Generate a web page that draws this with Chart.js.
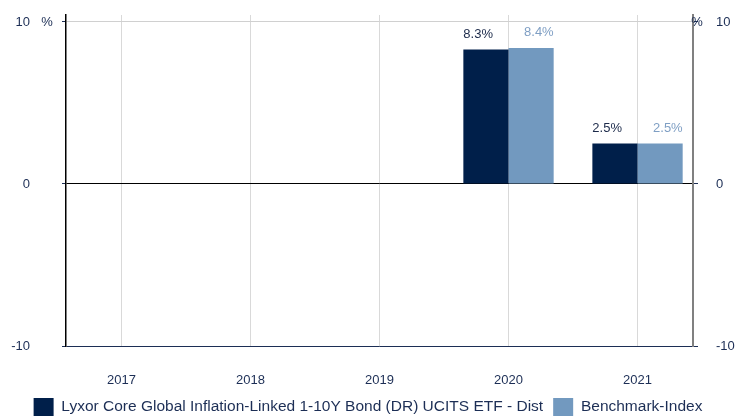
<!DOCTYPE html>
<html>
<head>
<meta charset="utf-8">
<style>
  html, body { margin: 0; padding: 0; background: #fff; }
  #wrap { width: 736px; height: 417px; }
</style>
<script src="https://cdn.jsdelivr.net/npm/chart.js@4"></script>
</head>
<body>
<div id="wrap"><canvas id="chart" width="736" height="417"></canvas></div>
<script>
// chart data
const categories = ['2017', '2018', '2019', '2020', '2021'];
const fundValues = [null, null, null, 8.3, 2.5];
const benchValues = [null, null, null, 8.4, 2.5];
const yTicks = [-10, 0, 10];
const seriesNames = ['Lyxor Core Global Inflation-Linked 1-10Y Bond (DR) UCITS ETF - Dist', 'Benchmark-Index'];

const navy = '#001f4a';
const lightBlue = '#7299bf';
const textColor = '#1c2e55';
const fontFamily = '"Liberation Sans", Arial, sans-serif';

const years = categories.map(Number);
const toPoints = vals => years.map((x, i) => ({ x: x, y: vals[i] }));

// value labels above the bars
const barLabels = {
    id: 'barLabels',
    afterDatasetsDraw(chart) {
        const ctx = chart.ctx;
        ctx.save();
        ctx.font = '13px ' + fontFamily;
        ctx.textBaseline = 'middle';
        chart.data.datasets.forEach((ds, di) => {
            const meta = chart.getDatasetMeta(di);
            meta.data.forEach((bar, i) => {
                const v = ds.data[i].y;
                if (v === null) return;
                ctx.fillStyle = di === 0 ? '#1c2a4a' : '#7f9fc4';
                ctx.textAlign = di === 0 ? 'left' : 'right';
                const x = di === 0 ? bar.x - bar.width / 2 : bar.x + bar.width / 2;
                ctx.fillText(v.toFixed(1) + '%', x, bar.y - 15);
            });
        });
        ctx.restore();
    }
};

// y tick labels on both sides + "%" unit at the top tick
const axisLabels = {
    id: 'axisLabels',
    afterDraw(chart) {
        const ctx = chart.ctx;
        const sy = chart.scales.y;
        const area = chart.chartArea;
        const top = yTicks[yTicks.length - 1];
        ctx.save();
        ctx.font = '13px ' + fontFamily;
        ctx.fillStyle = textColor;
        ctx.textBaseline = 'middle';
        yTicks.forEach(v => {
            const y = sy.getPixelForValue(v);
            ctx.textAlign = 'right';
            ctx.fillText(String(v), area.left - 36, y);
            ctx.textAlign = 'left';
            ctx.fillText(String(v), area.right + 23, y);
        });
        const yt = sy.getPixelForValue(top);
        ctx.textAlign = 'center';
        ctx.fillText('%', area.left - 19, yt);
        ctx.fillText('%', area.right + 4, yt);
        ctx.restore();
    }
};

new Chart(document.getElementById('chart'), {
    type: 'bar',
    data: {
        datasets: [
            { label: seriesNames[0], data: toPoints(fundValues), backgroundColor: navy },
            { label: seriesNames[1], data: toPoints(benchValues), backgroundColor: lightBlue }
        ]
    },
    options: {
        responsive: false,
        animation: false,
        events: [],
        layout: { padding: { top: 15, left: 0, right: 0, bottom: 0 } },
        datasets: { bar: { categoryPercentage: 0.7, barPercentage: 1 } },
        plugins: {
            tooltip: { enabled: false },
            legend: {
                position: 'bottom',
                maxHeight: 29,
                labels: {
                    boxWidth: 20,
                    boxHeight: 18,
                    padding: 10,
                    color: textColor,
                    font: { family: fontFamily, size: 15.5 }
                }
            }
        },
        scales: {
            x: {
                type: 'linear',
                offset: false,
                min: 2016.57,
                max: 2021.43,
                afterBuildTicks: s => { s.ticks = years.map(v => ({ value: v })); },
                afterFit: s => { s.height = 42; },
                ticks: {
                    color: textColor,
                    font: { family: fontFamily, size: 13 },
                    padding: 27,
                    maxRotation: 0,
                    callback: v => categories[years.indexOf(v)] || ''
                },
                grid: { color: '#d9d9d9', drawTicks: false, offset: false },
                border: { display: false }
            },
            y: {
                position: 'left',
                min: -10,
                max: 10.43,
                afterBuildTicks: s => { s.ticks = yTicks.map(v => ({ value: v })); },
                afterFit: s => { s.width = 66; },
                ticks: { display: false },
                grid: {
                    color: c => c.tick.value === 0 ? '#000000' : (c.tick.value < 0 ? '#1c2e55' : '#d0d0d0'),
                    tickColor: '#1c2e55',
                    tickLength: 4,
                    lineWidth: 1
                },
                border: { color: '#000000', width: 1.5 }
            },
            y2: {
                position: 'right',
                min: -10,
                max: 10.43,
                afterBuildTicks: s => { s.ticks = yTicks.map(v => ({ value: v })); },
                afterFit: s => { s.width = 43; },
                ticks: { display: false },
                grid: { drawOnChartArea: false, tickLength: 5, tickColor: '#1c2e55' },
                border: { color: '#808080', width: 2 }
            }
        }
    },
    plugins: [barLabels, axisLabels]
});
</script>
</body>
</html>
